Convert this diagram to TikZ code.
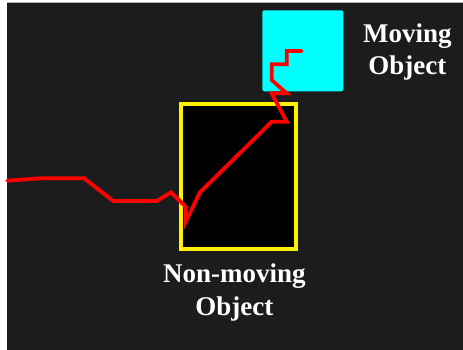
\documentclass[tikz,border=0pt]{standalone}
\usepackage{fontspec}
\setmainfont{Liberation Serif}
\begin{document}
\begin{tikzpicture}[x=1pt,y=-1pt,
  label/.style={text=white,font=\bfseries\fontsize{27}{33}\selectfont,align=center,inner sep=0pt},
  trail/.style={draw=red,line width=3.8pt,line join=miter,line cap=round}]
\definecolor{bgdark}{HTML}{1C1C1C}
\definecolor{movcyan}{HTML}{00FFFF}
% canvas
\fill[white] (0,0) rectangle (463,350);
\useasboundingbox (0,0) rectangle (463,350);
\fill[bgdark] (7.3,2.7) rectangle (463,350);
\draw[gray!60,line width=0.6pt] (7.3,2.7) -- (463,2.7);
% moving object
\fill[movcyan,rounded corners=1.5pt] (262.3,10.3) rectangle (343.3,91.3);
% non-moving object
\draw[yellow,fill=black,line width=3.6pt] (180.8,103.8) rectangle (295.9,248.9);
% trajectory
\draw[trail] (7.3,180.7) -- (40,178.3) -- (84,178.3) -- (113.3,201) -- (156.7,201)
  -- (171,192.3) -- (185.7,206.7) -- (185.7,221.7) -- (200,192.3) -- (271.7,121.7)
  -- (286.7,121.7) -- (271.7,93.3) -- (286.7,93.3) -- (271.7,80) -- (271.7,64.3)
  -- (286.7,64.3) -- (286.7,51) -- (301.7,51);
% labels
\node[label,anchor=base] (movA) at (407.3,42.3) {Moving};
\node[label,anchor=base] (movB) at (407.3,75) {Object};
\node[label,anchor=base] (nonA) at (234.3,282.7) {Non-moving};
\node[label,anchor=base] (nonB) at (234.3,315) {Object};
\end{tikzpicture}
\end{document}
